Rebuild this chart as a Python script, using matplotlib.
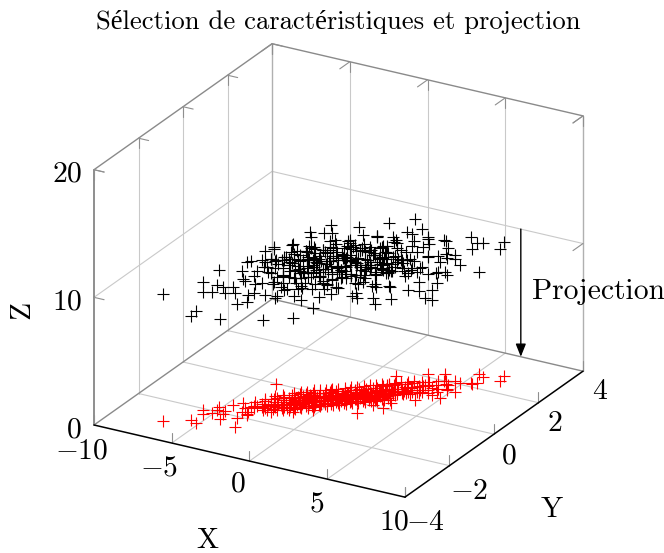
import matplotlib
matplotlib.use("Agg")
import matplotlib.pyplot as plt
from mpl_toolkits.mplot3d import proj3d

plt.rcParams['font.family'] = ['cmr10', 'Liberation Serif', 'DejaVu Serif']
plt.rcParams['mathtext.fontset'] = 'cm'
plt.rcParams['axes.unicode_minus'] = False

TITLE = "Sélection de caractéristiques et projection"
X_TICKS = [-10, -5, 0, 5, 10]
Y_TICKS = [-4, -2, 0, 2, 4]
Z_TICKS = [0, 10, 20]

x_outer = [-6.95,-5.64,-5.17,-5.73,-5.46,-5.14,-5.21,-5.08,-4.31,-4.47,-4.61,-4.62,-3.05,-3.54,-3.73,-4.25,-3.85,-3.29,-3.43,-3.32,-3.64,-3.77,-2.82,-3.99,-1.23,-0.43,-1.59,-0.93,-0.47,0.15,1.89,2.17,1.91,1.30,2.89,2.86,1.56,2.22,1.28,1.45,2.97,3.84,3.62,3.30,2.71,4.31,3.83,4.92,3.95,3.52,4.70,4.43,5.21,4.86,5.38,5.50,5.67,5.18,5.56,6.51,6.66]
y_outer = [-3.05,-2.69,-2.79,-2.07,-2.26,-2.11,-1.74,-1.92,-2.32,-2.06,-1.88,-1.50,-2.52,-2.10,-1.74,-1.31,-1.51,-1.83,-1.65,-1.78,-1.40,-1.12,-1.41,-0.02,-1.17,-0.86,-0.17,0.30,0.02,0.42,-0.50,0.05,0.31,0.81,0.34,0.02,1.18,0.89,1.69,1.16,1.06,0.75,1.21,1.58,2.14,1.18,1.51,1.13,1.98,2.33,1.58,1.84,1.59,2.07,2.18,2.15,2.25,2.71,2.62,2.89,2.62]
z_outer = [9.96,8.18,8.81,10.06,9.55,9.49,10.72,9.80,7.87,10.0,9.25,9.28,10.49,8.94,11.06,9.75,9.96,11.98,9.15,8.76,11.40,9.23,7.06,9.73,7.40,7.98,12.76,12.94,12.76,11.92,8.97,8.42,7.51,11.98,8.16,10.82,12.68,12.18,10.67,10.93,8.0,14.17,12.78,6.85,10.72,8.24,6.90,10.67,11.06,8.0,9.02,10.72,10.72,9.25,11.43,10.59,11.0,8.02,10.51,10.49,10.33]

x_core = [-3.55,-3.50,-3.42,-3.35,-3.28,-3.20,-3.12,-3.05,-2.98,-2.90,-2.85,-2.78,-2.70,-2.62,-2.55,-2.48,-2.42,-2.35,-2.28,-2.20,-2.14,-2.08,-2.02,-1.96,-1.90,-1.85,-1.80,-1.74,-1.68,-1.62,-1.57,-1.52,-1.47,-1.42,-1.37,-1.32,-1.27,-1.22,-1.17,-1.12,-1.08,-1.03,-0.98,-0.93,-0.88,-0.83,-0.78,-0.73,-0.68,-0.63,-0.58,-0.53,-0.48,-0.43,-0.38,-0.33,-0.28,-0.23,-0.18,-0.13,-0.08,-0.03,0.02,0.07,0.12,0.17,0.22,0.27,0.32,0.37,0.42,0.47,0.52,0.57,0.62,0.67,0.72,0.77,0.82,0.87,0.92,0.97,1.02,1.07,1.12,1.17,1.22,1.27,1.32,1.37,1.42,1.47,1.52,1.57,1.63,1.69,1.75,1.81,1.87,1.93,1.99,2.06,2.13,2.20,2.27,2.34,2.41,2.48,2.55,2.62,2.70,2.78,2.86,2.94,3.02,3.10,3.18,3.27,3.36,3.45,3.55,3.65,3.75,3.85,3.95,4.05,4.15,4.25,4.35,4.5,4.6]
y_core = [-1.30,-0.85,-1.40,-0.95,-1.15,-0.60,-1.25,-0.75,-1.10,-0.45,-1.30,-0.90,-0.55,-1.05,-0.70,-0.35,-1.15,-0.80,-0.50,-0.95,-0.25,-0.70,-1.05,-0.45,-0.15,-0.75,-0.55,-0.95,-0.25,-0.60,-0.05,-0.80,-0.40,-0.15,-0.70,-0.30,0.05,-0.50,-0.85,-0.20,-0.55,0.10,-0.35,-0.70,-0.10,0.20,-0.45,-0.15,-0.60,0.05,0.30,-0.30,-0.05,-0.50,0.25,-0.15,0.10,-0.35,0.40,-0.05,0.20,-0.30,0.50,0.05,-0.20,0.30,0.10,0.55,-0.10,0.25,0.65,0.05,0.40,-0.05,0.20,0.75,0.30,0.55,0.00,0.45,0.15,0.85,0.35,0.60,0.10,0.90,0.45,0.25,0.70,1.05,0.50,0.80,0.30,1.10,0.60,0.90,0.40,1.25,0.70,1.00,0.55,1.35,0.80,1.10,0.65,1.45,0.95,1.25,0.75,1.55,1.05,1.35,0.90,1.70,1.20,1.45,1.00,1.80,1.30,1.60,1.15,1.90,1.40,1.70,1.25,2.00,1.55,1.85,1.40,2.10,1.65]
z_core = [10.2,11.6,9.0,10.9,11.3,10.0,9.7,11.9,10.4,9.3,8.9,11.1,10.7,12.2,9.8,10.3,8.6,11.4,12.0,10.1,9.5,11.7,9.2,10.8,11.2,12.5,8.7,10.6,10.0,11.5,9.4,12.1,11.0,10.2,9.1,12.6,10.7,11.3,8.4,10.5,12.3,9.7,11.8,10.1,8.9,11.1,10.4,12.9,9.5,11.6,10.6,8.8,12.2,11.2,9.9,10.8,11.9,9.3,10.3,12.4,11.0,8.5,11.5,10.0,9.0,12.0,10.9,11.4,9.6,10.2,12.7,11.1,8.7,10.5,11.8,9.4,10.7,12.3,9.8,11.3,8.3,10.4,11.6,10.0,9.1,11.9,10.6,12.1,9.2,11.0,8.6,10.3,11.5,9.7,12.4,10.8,8.9,11.2,10.1,9.3,11.7,10.5,8.4,11.4,9.6,11.9,10.2,8.7,10.9,11.1,9.4,12.0,10.3,9.0,11.3,8.2,10.6,10.8,9.5,11.5,8.0,9.8,10.4,8.8,9.3,10.0,9.1,11.2,8.5,9.6,10.2]

x_dense = [-3.38,-3.22,-3.08,-2.95,-2.82,-2.72,-2.6,-2.5,-2.4,-2.32,-2.24,-2.16,-2.1,-2.04,-1.98,-1.92,-1.86,-1.8,-1.75,-1.7,-1.65,-1.6,-1.55,-1.5,-1.45,-1.4,-1.35,-1.3,-1.25,-1.2,-1.15,-1.1,-1.05,-1.0,-0.95,-0.9,-0.85,-0.8,-0.75,-0.7,-0.65,-0.6,-0.55,-0.5,-0.45,-0.4,-0.35,-0.3,-0.25,-0.2,-0.15,-0.1,-0.05,0.0,0.05,0.1,0.15,0.2,0.25,0.3,0.35,0.4,0.45,0.5,0.55,0.6,0.65,0.7,0.75,0.8,0.85,0.9,0.95,1.0,1.05,1.1,1.15,1.2,1.25,1.3,1.35,1.4,1.45,1.5,1.55,1.6,1.66,1.72,1.78,1.84,1.9,1.96,2.03,2.1,2.18,2.26,2.35,2.44,2.53,2.62,2.72,2.82,2.92,3.03,3.15,3.28,3.4,3.55]
y_dense = [-1.30,-0.80,-1.20,-0.70,-1.05,-0.60,-1.10,-0.95,-0.55,-0.95,-0.45,-0.85,-0.75,-0.40,-0.80,-0.60,-0.30,-0.75,-0.50,-0.70,-0.25,-0.65,-0.45,-0.20,-0.60,-0.35,-0.55,-0.15,-0.50,-0.25,-0.45,-0.10,-0.40,-0.20,-0.35,-0.05,-0.30,-0.15,-0.35,0.05,-0.25,-0.05,-0.30,0.10,-0.20,0.00,-0.25,0.15,-0.10,0.05,-0.15,0.25,-0.05,0.15,-0.10,0.30,0.05,0.20,-0.05,0.35,0.10,0.25,0.00,0.45,0.15,0.35,0.10,0.50,0.25,0.40,0.15,0.55,0.30,0.50,0.25,0.65,0.40,0.60,0.30,0.75,0.45,0.65,0.40,0.85,0.55,0.75,0.45,0.95,0.60,0.85,0.55,1.00,0.70,0.95,0.70,1.10,0.80,1.15,0.85,1.25,0.95,1.30,1.00,1.40,1.10,1.50,1.15,1.55]
z_dense = [10.6,9.9,10.9,9.5,11.4,10.2,9.7,11.0,10.4,9.2,10.8,11.5,9.8,10.3,11.1,9.6,10.7,11.7,10.1,9.4,11.3,10.5,9.9,11.6,10.2,10.9,9.3,11.2,10.6,11.8,9.7,10.4,11.0,9.5,10.8,11.4,10.0,9.1,11.1,10.5,11.7,9.8,10.3,10.9,11.5,9.6,10.7,11.2,9.3,10.1,11.9,10.6,9.9,11.0,10.4,11.6,9.5,10.8,10.2,11.3,9.7,11.0,10.5,9.2,11.8,10.3,10.9,9.6,11.4,10.0,10.7,11.1,9.4,10.6,11.5,10.2,9.8,11.2,10.4,9.3,11.7,10.8,10.1,9.6,11.0,10.5,11.3,9.1,10.3,10.9,11.6,9.8,10.6,9.4,11.1,10.2,10.7,9.5,11.4,10.0,10.4,9.2,11.0,10.6,9.7,10.9,9.4,10.2]

x_edge = [-2.6,-2.5,-2.42,-2.33,-2.25,-2.15,-2.07,-1.97,-1.88,-1.8,-1.7,-1.62,-1.53,-1.45,-1.35,-1.27,-1.18,-1.1,-1.0,-0.92,-0.83,-0.75,-0.65,-0.57,-0.48,-0.4,-0.3,-0.22,-0.13,-0.05,0.05,0.13,0.22,0.3,0.4,0.48,0.57,0.65,0.75,0.83,0.92,1.0,1.1,1.18,1.27,1.35,1.45,1.53,1.62,1.7,1.8,1.88,1.97,2.05,2.15,2.23,2.33,2.42,2.52,2.62]
y_edge = [-1.38,-0.25,-1.25,-1.40,-0.10,-1.25,-1.10,-0.05,-1.20,-1.05,0.10,-1.10,-0.95,0.20,-1.00,-0.85,0.25,-0.90,-0.75,0.35,-0.80,-0.65,0.45,-0.70,-0.55,0.55,-0.60,-0.45,0.65,-0.50,-0.35,0.75,-0.40,-0.25,0.85,-0.30,-0.15,0.95,-0.20,-0.05,1.05,-0.10,0.05,1.15,0.00,0.15,1.25,0.10,0.25,1.35,0.20,0.35,1.45,0.30,0.45,1.55,0.40,0.55,1.65,0.50]
z_edge = [11.2,9.0,9.8,12.0,8.9,8.9,11.6,10.3,10.0,9.3,9.7,11.8,8.7,8.8,10.9,11.4,9.9,9.6,12.2,8.6,10.6,9.1,10.1,11.7,8.5,9.2,10.2,11.9,8.9,9.5,10.8,9.7,11.5,9.0,8.7,10.4,12.1,9.4,9.9,11.0,8.6,8.4,10.7,10.0,11.3,9.3,8.9,9.7,11.6,9.1,10.5,8.8,9.6,10.9,10.2,8.5,11.1,9.9,9.4,8.8]

x_vals = x_outer + x_core + x_dense + x_edge
y_vals = y_outer + y_core + y_dense + y_edge
z_vals = z_outer + z_core + z_dense + z_edge
z_proj = [0 for _ in z_vals]

W, H = 664, 553
fig = plt.figure(figsize=(W / 100, H / 100), dpi=100, facecolor='white')
ax = fig.add_axes([0, 0, 1, 1], projection='3d', computed_zorder=False)
ax.set_proj_type('ortho')
ax.view_init(elev=23.9, azim=-60.2)
ax.set_xlim(-10, 10, view_margin=0)
ax.set_ylim(-4, 4, view_margin=0)
ax.set_zlim(0, 20, view_margin=0)
ax.set_xticks(X_TICKS)
ax.set_yticks(Y_TICKS)
ax.set_zticks(Z_TICKS)
ax.set_axis_off()
aspect = (358, 358, 279)


def to_px(x, y, z):
    xs, ys, _ = proj3d.proj_transform(x, y, z, ax.get_proj())
    return ax.transData.transform((xs, ys))


# fit the projected box onto the reference pixel frame
zoom = 1.0
ax.set_box_aspect(aspect, zoom=zoom)
ax.apply_aspect()
p0, p1 = to_px(-10, -4, 0), to_px(10, 4, 0)
zoom *= 489.0 / (p1[0] - p0[0])
ax.set_box_aspect(aspect, zoom=zoom)
p0 = to_px(-10, -4, 0)
ax.set_position([(94 - p0[0]) / W, ((H - 425) - p0[1]) / H, 1, 1])
ax.apply_aspect()

GRID = '#c9c9c9'
FRAME = '#8a8a8a'
TICK = '#8f8f8f'


def seg(a, b, color, lw=0.8, zorder=1):
    ax.plot([a[0], b[0]], [a[1], b[1]], [a[2], b[2]], color=color, lw=lw,
            zorder=zorder, clip_on=False, solid_capstyle='round')


# grid
for x in X_TICKS[1:-1]:
    seg((x, -4, 0), (x, 4, 0), GRID)
    seg((x, 4, 0), (x, 4, 20), GRID)
for y in Y_TICKS[1:-1]:
    seg((-10, y, 0), (10, y, 0), GRID)
    seg((-10, y, 0), (-10, y, 20), GRID)
seg((-10, -4, 10), (-10, 4, 10), GRID)
seg((-10, 4, 10), (10, 4, 10), GRID)

# back frame
seg((-10, -4, 0), (-10, 4, 0), FRAME, 1.0, 2)
seg((-10, 4, 0), (10, 4, 0), FRAME, 1.0, 2)
seg((-10, 4, 0), (-10, 4, 20), '#b0b0b0', 1.0, 2)
seg((10, 4, 0), (10, 4, 20), '#b0b0b0', 1.0, 2)
seg((-10, -4, 20), (-10, 4, 20), FRAME, 1.0, 2)
seg((-10, 4, 20), (10, 4, 20), FRAME, 1.0, 2)
seg((-10, -4, 0), (-10, -4, 20), '#707070', 1.1, 2)

# ticks
TL_Z, TL_X, TL_Y = 0.8, 0.65, 0.45
for x in X_TICKS:
    seg((x, -4, 0), (x, -4, TL_Z), TICK, 0.8, 2)
    seg((x, 4, 20), (x, 4, 20 - TL_Z), TICK, 0.8, 2)
    seg((x, 4, 20), (x, 4 - TL_Y, 20), TICK, 0.8, 2)
for y in Y_TICKS:
    seg((10, y, 0), (10, y, TL_Z), TICK, 0.8, 2)
    seg((-10, y, 20), (-10, y, 20 - TL_Z), TICK, 0.8, 2)
    seg((-10, y, 20), (-10 + TL_X, y, 20), TICK, 0.8, 2)
for z in Z_TICKS[1:]:
    seg((-10, -4, z), (-10 + TL_X, -4, z), TICK, 0.8, 2)
    seg((10, 4, z), (10, 4 - TL_Y, z), TICK, 0.8, 2)

# front axes
seg((-10, -4, 0), (10, -4, 0), 'black', 1.1, 3)
seg((10, -4, 0), (10, 4, 0), 'black', 1.1, 3)

# data
mk = dict(linestyle='none', marker='+', markersize=8.4, markeredgewidth=0.8, clip_on=False)
ax.plot(x_vals, y_vals, z_vals, color='black', zorder=4, **mk)
ax.plot(x_vals, y_vals, z_proj, color='red', zorder=5, **mk)

LABEL_SIZE = 21.3


def label(text, x, y, z, dx, dy, size=LABEL_SIZE, ha='center', va='center', rotation=0):
    xs, ys, _ = proj3d.proj_transform(x, y, z, ax.get_proj())
    ax.annotate(text, (xs, ys), xytext=(dx, dy), textcoords='offset pixels',
                fontsize=size, ha=ha, va=va, rotation=rotation,
                annotation_clip=False, zorder=6)


def num(v):
    return f"${v}$"


x_off = {-10: (-12, -26), -5: (-13, -25), 0: (-12, -23), 5: (-11, -25), 10: (-11, -25)}
for v in X_TICKS:
    label(num(v), v, -4, 0, *x_off[v])
y_off = {-4: (20.5, -26), -2: (20, -26), 0: (15, -22), 2: (16, -21), 4: (17, -21)}
for v in Y_TICKS:
    label(num(v), 10, v, 0, *y_off[v])
for v in Z_TICKS:
    label(num(v), -10, -4, v, -12, -5, ha='right')

fig.text(207 / W, 1 - 541 / H, 'X', fontsize=LABEL_SIZE, ha='center', va='center')
fig.text(552 / W, 1 - 510 / H, 'Y', fontsize=LABEL_SIZE, ha='center', va='center')
fig.text(22 / W, 1 - 310 / H, 'Z', fontsize=LABEL_SIZE, ha='center', va='center', rotation=90)
fig.text(338 / W, 1 - 22 / H, TITLE, fontsize=19.2, ha='center', va='center')

# projection arrow
xa0, ya0, _ = proj3d.proj_transform(6, 4, 10, ax.get_proj())
xa1, ya1, _ = proj3d.proj_transform(6, 4, 0, ax.get_proj())
ax.annotate('', xy=(xa1, ya1), xytext=(xa0, ya0),
            arrowprops=dict(arrowstyle='-|>,head_length=0.55,head_width=0.22', color='black',
                            lw=1.0, shrinkA=0, shrinkB=0, mutation_scale=14),
            annotation_clip=False, zorder=6)
label('Projection', 6, 4, 5, 11, -6, ha='left', va='baseline')

fig.savefig('out.png', dpi=100)
